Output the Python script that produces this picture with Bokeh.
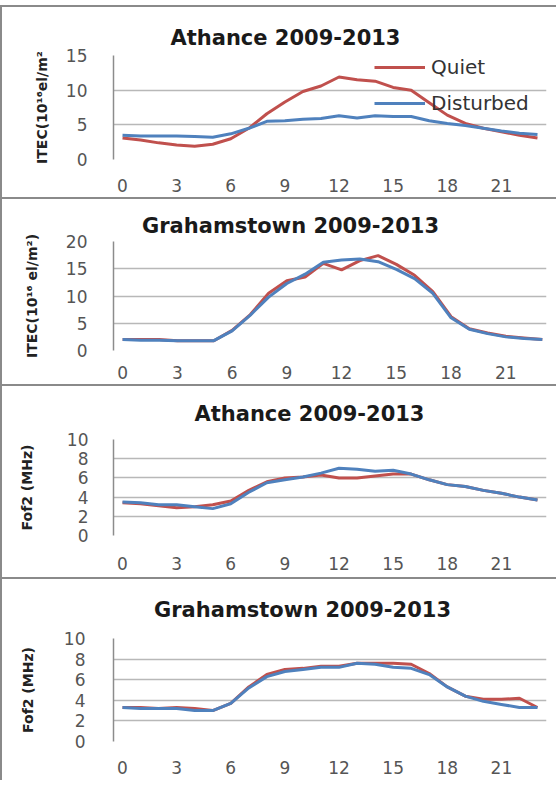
from bokeh.plotting import figure
from bokeh.layouts import column
from bokeh.models import FixedTicker, Legend, LegendItem, Range1d, Title
from bokeh.embed import file_html
from bokeh.resources import INLINE

# ---------------- data ----------------
hours = list(range(24))
x_ticks = [0, 3, 6, 9, 12, 15, 18, 21]

athance_tec_quiet = [3.1, 2.8, 2.4, 2.1, 1.9, 2.2, 3.0, 4.5, 6.6, 8.3, 9.8, 10.6,
                     11.9, 11.5, 11.3, 10.4, 10.0, 8.2, 6.4, 5.2, 4.5, 4.0, 3.5, 3.1]
athance_tec_disturbed = [3.5, 3.4, 3.4, 3.4, 3.3, 3.2, 3.7, 4.5, 5.5, 5.6, 5.8, 5.9,
                         6.3, 6.0, 6.3, 6.2, 6.2, 5.6, 5.2, 4.9, 4.5, 4.1, 3.8, 3.6]

grahamstown_tec_quiet = [2.0, 2.0, 2.0, 1.8, 1.8, 1.8, 3.7, 6.6, 10.5, 12.8, 13.5, 16.0,
                         14.8, 16.5, 17.4, 15.8, 13.8, 10.8, 6.2, 4.0, 3.2, 2.6, 2.3, 2.0]
grahamstown_tec_disturbed = [2.0, 1.9, 1.9, 1.8, 1.8, 1.8, 3.6, 6.5, 9.8, 12.3, 14.0, 16.2,
                             16.6, 16.8, 16.3, 14.9, 13.2, 10.5, 6.0, 3.9, 3.1, 2.5, 2.2, 2.0]

athance_fof2_quiet = [3.4, 3.3, 3.1, 2.9, 3.0, 3.2, 3.6, 4.7, 5.6, 6.0, 6.1, 6.3,
                      6.0, 6.0, 6.2, 6.4, 6.4, 5.8, 5.3, 5.1, 4.7, 4.4, 4.0, 3.7]
athance_fof2_disturbed = [3.5, 3.4, 3.2, 3.2, 3.0, 2.8, 3.3, 4.5, 5.5, 5.8, 6.1, 6.5,
                          7.0, 6.9, 6.7, 6.8, 6.4, 5.8, 5.3, 5.1, 4.7, 4.4, 4.0, 3.7]

grahamstown_fof2_quiet = [3.3, 3.3, 3.2, 3.3, 3.2, 3.0, 3.7, 5.3, 6.5, 7.0, 7.1, 7.3,
                          7.3, 7.6, 7.6, 7.6, 7.5, 6.6, 5.3, 4.4, 4.1, 4.1, 4.2, 3.3]
grahamstown_fof2_disturbed = [3.3, 3.2, 3.2, 3.2, 3.0, 3.0, 3.7, 5.2, 6.3, 6.8, 7.0, 7.2,
                              7.2, 7.6, 7.5, 7.2, 7.1, 6.5, 5.3, 4.4, 3.9, 3.6, 3.3, 3.3]

RED = "#C0504D"
BLUE = "#4F81BD"
FONT = "DejaVu Sans"
BORDER = "2px solid #8a8a8a"


def make_panel(title, ylabel, quiet, disturbed, y_end, y_ticks, height,
               b_top, b_bottom, b_left, b_right, x_end,
               title_offset, title_standoff, tick_standoff, label_standoff, xlab_standoff,
               legend=False, legend_loc=(0, 0), extra_styles=None):
    p = figure(width=556, height=height, output_backend="svg", toolbar_location=None,
               x_range=Range1d(-0.5, x_end), y_range=Range1d(0, y_end),
               min_border_top=b_top, min_border_bottom=b_bottom,
               min_border_left=b_left, min_border_right=b_right,
               background_fill_color="white", border_fill_color="white")
    p.outline_line_color = None
    p.xgrid.visible = False
    p.ygrid.grid_line_color = "#b8b8b8"
    p.ygrid.grid_line_width = 1.5

    p.xaxis.ticker = FixedTicker(ticks=x_ticks)
    p.yaxis.ticker = FixedTicker(ticks=y_ticks)
    for ax in (p.xaxis[0], p.yaxis[0]):
        ax.major_tick_line_color = None
        ax.minor_tick_line_color = None
        ax.major_tick_out = 0
        ax.major_tick_in = 0
        ax.major_label_text_font = FONT
        ax.major_label_text_font_size = "17px"
        ax.major_label_text_color = "#555555"
    p.xaxis.axis_line_color = None
    p.xaxis.major_label_standoff = xlab_standoff
    p.yaxis.axis_line_color = "#8c8c8c"
    p.yaxis.axis_line_width = 1.5
    p.yaxis.major_label_standoff = tick_standoff
    p.yaxis.axis_label = ylabel
    p.yaxis.axis_label_text_font = FONT
    p.yaxis.axis_label_text_font_size = "14px"
    p.yaxis.axis_label_text_font_style = "bold"
    p.yaxis.axis_label_text_color = "#222222"
    p.yaxis.axis_label_standoff = label_standoff

    rq = p.line(hours, quiet, line_color=RED, line_width=3)
    rd = p.line(hours, disturbed, line_color=BLUE, line_width=3)

    p.add_layout(Title(text=title, align="left", offset=title_offset,
                       standoff=title_standoff, vertical_align="bottom",
                       text_font=FONT, text_font_size="21px", text_font_style="bold",
                       text_color="#1a1a1a"), "above")

    if legend:
        lg = Legend(items=[LegendItem(label="Quiet", renderers=[rq]),
                           LegendItem(label="Disturbed", renderers=[rd])],
                    location=legend_loc, orientation="vertical",
                    glyph_width=51, glyph_height=20, label_height=20,
                    label_standoff=6, spacing=12, padding=0, margin=0,
                    border_line_color=None, background_fill_alpha=0,
                    label_text_font=FONT, label_text_font_size="20px",
                    label_text_color="#333333")
        p.add_layout(lg)

    styles = {"border-top": BORDER, "border-left": BORDER}
    if extra_styles:
        styles.update(extra_styles)
    p.styles = styles
    return p


p1 = make_panel("Athance 2009-2013", "ITEC(10¹⁶el/m²", athance_tec_quiet, athance_tec_disturbed,
                15, [0, 5, 10, 15], 192, 48, 40, 111, 12, 23.5,
                57, 11, 26, 13, 19, legend=True, legend_loc=(261, 44),
                extra_styles={"margin-top": "5px"})
p2 = make_panel("Grahamstown 2009-2013", "ITEC(10¹⁶ el/m²)", grahamstown_tec_quiet,
                grahamstown_tec_disturbed, 20, [0, 5, 10, 15, 20], 187, 42, 36, 106, 0, 23.23,
                28.5, 7, 26, 23, 15)
p3 = make_panel("Athance 2009-2013", "Fof2 (MHz)", athance_fof2_quiet, athance_fof2_disturbed,
                10, [0, 2, 4, 6, 8, 10], 193, 49, 44, 87, 5, 23.5,
                81, 27, 25, 29, 21)
p4 = make_panel("Grahamstown 2009-2013", "Fof2 (MHz)", grahamstown_fof2_quiet,
                grahamstown_fof2_disturbed, 10, [0, 2, 4, 6, 8, 10], 203, 55, 41, 94, 10, 23.5,
                40.5, 33, 28, 25, 19)

layout = column(p1, p2, p3, p4, spacing=0)

with open("out.html", "w") as f:
    f.write(file_html(layout, INLINE))
